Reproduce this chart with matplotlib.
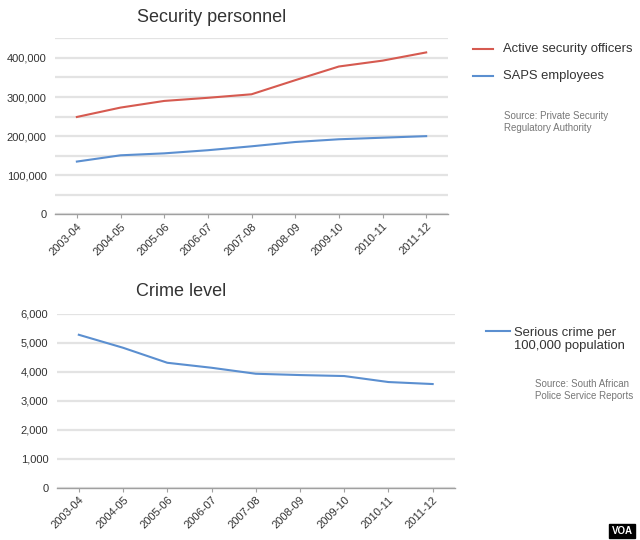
import numpy as np
import matplotlib.pyplot as plt
from matplotlib.ticker import FuncFormatter, MultipleLocator

plt.rcParams['font.family'] = ['Liberation Sans', 'DejaVu Sans']

years = ['2003-04', '2004-05', '2005-06', '2006-07', '2007-08',
         '2008-09', '2009-10', '2010-11', '2011-12']
security_officers = [249000, 273000, 290000, 298000, 307000,
                     343000, 378000, 393000, 414000]
saps_employees = [135000, 151000, 156000, 164000, 174000,
                  185000, 192000, 196000, 200000]
serious_crime = [5276, 4828, 4310, 4138, 3931, 3886, 3852, 3645, 3576]

red = '#d65a50'
blue = '#5b8fd0'
grid_c = '#e3e3e3'
txt_c = '#333333'

fig = plt.figure(figsize=(6.4, 5.4), dpi=100)
fig.patch.set_facecolor('white')

def style(ax):
    for s in ['top', 'right', 'left']:
        ax.spines[s].set_visible(False)
    ax.spines['bottom'].set_color('#a0a0a0')
    ax.spines['bottom'].set_linewidth(1.0)
    ax.grid(axis='y', color=grid_c, linewidth=1.6)
    ax.set_axisbelow(True)
    ax.tick_params(axis='y', length=0, labelsize=8, labelcolor=txt_c, pad=6)
    ax.tick_params(axis='x', length=3, color='#a0a0a0', labelsize=8, labelcolor=txt_c, pad=2)
    x = np.arange(len(years))
    ax.set_xticks(x)
    ax.set_xticklabels(years, rotation=45, ha='right', rotation_mode='anchor')
    ax.set_xlim(-0.5, len(years) - 0.5)

# top chart
ax1 = fig.add_axes([0.086, 0.603, 0.614, 0.326])
style(ax1)
x = np.arange(len(years))
ax1.plot(x, security_officers, color=red, lw=1.5)
ax1.plot(x, saps_employees, color=blue, lw=1.5)
ax1.set_ylim(0, 450000)
ax1.yaxis.set_major_locator(MultipleLocator(50000))
ax1.yaxis.set_major_formatter(FuncFormatter(
    lambda v, p: '{:,}'.format(int(v)) if int(v) % 100000 == 0 and v < 450000 else ''))
fig.text(212/640, 1 - 18/540, 'Security personnel', fontsize=13, color=txt_c,
         ha='center', va='center')

# bottom chart
ax2 = fig.add_axes([0.0886, 0.0969, 0.622, 0.322])
style(ax2)
ax2.plot(x, serious_crime, color=blue, lw=1.5)
ax2.set_ylim(0, 6000)
ax2.yaxis.set_major_locator(MultipleLocator(1000))
ax2.yaxis.set_major_formatter(FuncFormatter(lambda v, p: '{:,}'.format(int(v))))
fig.text(181/640, 1 - 291/540, 'Crime level', fontsize=13, color=txt_c,
         ha='center', va='center')

# legends drawn as figure elements
def leg_line(x0, x1, y, c):
    fig.add_artist(plt.Line2D([x0/640, x1/640], [1 - y/540, 1 - y/540],
                              color=c, lw=1.5, transform=fig.transFigure))

leg_line(473, 493, 49, red)
fig.text(503/640, 1 - 49/540, 'Active security officers', fontsize=9.4,
         color=txt_c, va='center')
leg_line(473, 493, 76, blue)
fig.text(503/640, 1 - 76/540, 'SAPS employees', fontsize=9.4,
         color=txt_c, va='center')
fig.text(504/640, 1 - 122/540, 'Source: Private Security\nRegulatory Authority',
         fontsize=7, color='#777777', va='center', linespacing=1.3)

leg_line(486, 510, 331, blue)
fig.text(514/640, 1 - 327/540, 'Serious crime per\n100,000 population',
         fontsize=9.4, color=txt_c, va='top', linespacing=1.1)
fig.text(535/640, 1 - 390/540, 'Source: South African\nPolice Service Reports',
         fontsize=7, color='#777777', va='center', linespacing=1.3)

# VOA tag
fig.text(622/640, 1 - 531/540, 'VOA', fontsize=7, fontweight='bold', color='white',
         ha='center', va='center',
         bbox=dict(boxstyle='square,pad=0.25', fc='black', ec='black'))

fig.savefig('out.png', dpi=100)
